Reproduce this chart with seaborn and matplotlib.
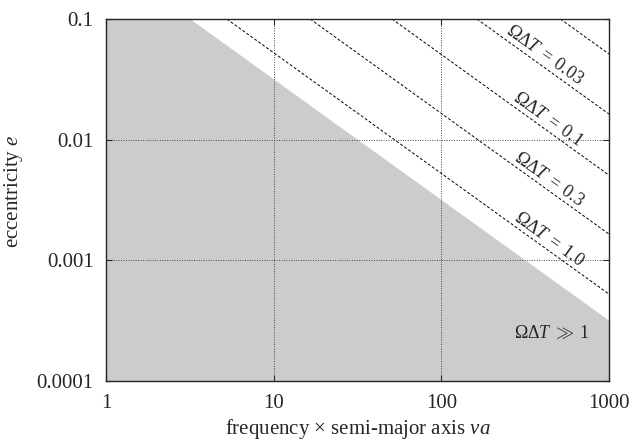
import numpy as np
import pandas as pd
import seaborn as sns
import matplotlib.pyplot as plt
from matplotlib.ticker import FixedLocator, NullLocator

# boundary of the grey region (e * va ~ const)
edge_x = [1, 3.17, 1000]
edge_e = [0.1, 0.1, 0.000317]

# dashed lines: where they cross e = 0.1 (top) and va = 1000 (right edge)
omega_dt = ["0.01", "0.03", "0.1", "0.3", "1.0"]
dash_x_top = [513, 163, 50.8, 16.5, 5.25]
dash_e_right = [0.0513, 0.0163, 0.00508, 0.00165, 0.000525]

# label centres
lab_text = ["0.03", "0.1", "0.3", "1.0"]
lab_x = [412, 430, 435, 440]
lab_e = [0.0504, 0.0148, 0.00470, 0.00150]

xticks = [1, 10, 100, 1000]
xlabels = ["1", "10", "100", "1000"]
yticks = [0.0001, 0.001, 0.01, 0.1]
ylabels = ["0.0001", "0.001", "0.01", "0.1"]

sns.set_style("ticks")
plt.rcParams["font.family"] = ["Liberation Serif", "DejaVu Serif"]
plt.rcParams["mathtext.fontset"] = "custom"
plt.rcParams["mathtext.rm"] = "Liberation Serif"
plt.rcParams["mathtext.it"] = "Liberation Serif:italic"

rows = []
for name, xt, er in zip(omega_dt, dash_x_top, dash_e_right):
    rows.append({"line": name, "x": xt, "e": 0.1})
    rows.append({"line": name, "x": 1000, "e": er})
lines = pd.DataFrame(rows)

fig = plt.figure(figsize=(6.31, 4.43), dpi=100)
ax = fig.add_axes([106 / 631, 1 - 381 / 443, 503 / 631, 362 / 443])

ax.fill_between(edge_x, edge_e, 1e-5, color="#cccccc", lw=0, zorder=1)

sns.lineplot(data=lines, x="x", y="e", units="line", estimator=None,
             color="black", lw=0.7, ax=ax, zorder=3, sort=False)
for l in ax.get_lines():
    l.set_dashes((3, 2))

ax.set_xscale("log")
ax.set_yscale("log")
ax.set_xlim(1, 1000)
ax.set_ylim(0.0001, 0.1)

ax.xaxis.set_major_locator(FixedLocator(xticks))
ax.set_xticklabels(xlabels)
ax.yaxis.set_major_locator(FixedLocator(yticks))
ax.set_yticklabels(ylabels)
ax.xaxis.set_minor_locator(NullLocator())
ax.yaxis.set_minor_locator(NullLocator())
ax.tick_params(direction="in", length=4, width=0.8, top=True, right=True,
               labelsize=15, pad=9)

ax.grid(True, which="major", color="#444444", ls=(0, (1, 1.5)), lw=0.7, zorder=2)
ax.set_axisbelow(False)
for s in ax.spines.values():
    s.set_linewidth(1.0)
    s.set_zorder(4)

for t, x, e in zip(lab_text, lab_x, lab_e):
    ax.text(x, e, r"$\Omega\Delta T\;=\;%s$" % t, fontsize=13,
            rotation=-35.6, rotation_mode="anchor", ha="center", va="center", zorder=5)
ax.text(455, 0.000248, r"$\Omega\Delta T\;\gg\;1$", fontsize=13,
        ha="center", va="center", zorder=5)

ax.set_xlabel(r"frequency $\times$ semi-major axis $\nu a$", fontsize=15, labelpad=3.5)
ax.set_ylabel(r"eccentricity $e$", fontsize=15)
ax.yaxis.set_label_coords(-0.162, 0.525)

fig.savefig("out.png", dpi=100)
